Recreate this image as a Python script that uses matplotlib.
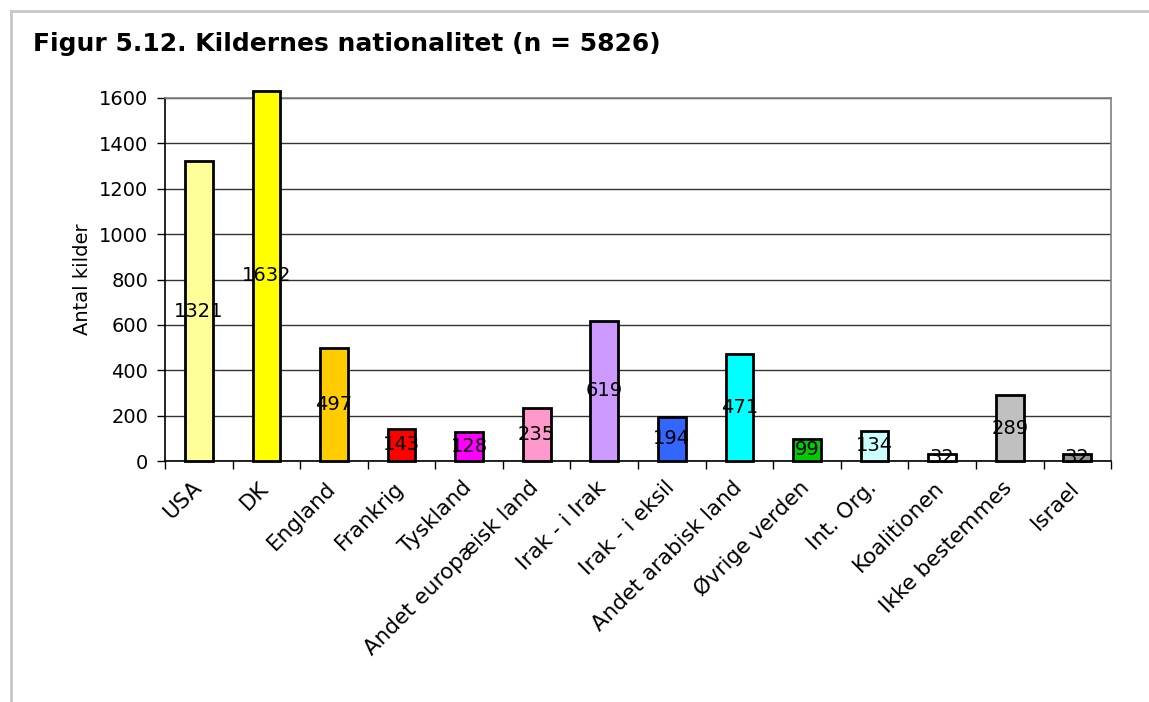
import numpy as np
import matplotlib.pyplot as plt
import matplotlib.transforms as mtransforms
from matplotlib.lines import Line2D

categories = ['USA', 'DK', 'England', 'Frankrig', 'Tyskland',
              'Andet europæisk land', 'Irak - i Irak', 'Irak - i eksil',
              'Andet arabisk land', 'Øvrige verden', 'Int. Org.',
              'Koalitionen', 'Ikke bestemmes', 'Israel']
values = [1321, 1632, 497, 143, 128, 235, 619, 194, 471, 99, 134, 32, 289, 32]
colors = ['#FFFF99', '#FFFF00', '#FFCC00', '#FF0000', '#FF00FF', '#FF99CC',
          '#CC99FF', '#3366FF', '#00FFFF', '#00CC00', '#CCFFFF', '#FFFFFF',
          '#C0C0C0', '#969696']
yticks = [0, 200, 400, 600, 800, 1000, 1200, 1400, 1600]

plt.rcParams['font.family'] = ['DejaVu Sans']

fig = plt.figure(figsize=(11.49, 7.02), dpi=100)
ax = fig.add_axes([0.1436, 0.3433, 0.967 - 0.1436, 0.8604 - 0.3433])

x = np.arange(len(categories))
bars = ax.bar(x, values, width=0.41, color=colors, edgecolor='black',
              linewidth=2, zorder=3, clip_on=False)

for xi, v in zip(x, values):
    ax.text(xi, v / 2, str(v), ha='center', va='center', fontsize=14,
            zorder=4, clip_on=False)

ax.set_xlim(-0.5, len(categories) - 0.5)
ax.set_ylim(0, 1600)
ax.set_yticks(yticks)
ax.tick_params(axis='y', labelsize=14, length=6, width=1, direction='out', pad=6)
ax.yaxis.grid(True, color='#333333', linewidth=1, zorder=0)

ax.set_xticks(x)
ax.set_xticklabels(categories, rotation=45, ha='right',
                   rotation_mode='anchor', fontsize=15.5)
ax.tick_params(axis='x', which='major', length=0, pad=12)
ax.set_xticks(np.arange(len(categories) + 1) - 0.5, minor=True)
ax.tick_params(axis='x', which='minor', length=6, width=1, direction='out')

# nudge the rotated labels a little to the left
shift = mtransforms.ScaledTranslation(-8 / 100, 0, fig.dpi_scale_trans)
for lbl in ax.get_xticklabels():
    lbl.set_transform(lbl.get_transform() + shift)

ax.set_ylabel('Antal kilder', fontsize=14, labelpad=5)

ax.spines['left'].set_color('black')
ax.spines['bottom'].set_color('black')
ax.spines['top'].set_color('#808080')
ax.spines['right'].set_color('#808080')
for s in ax.spines.values():
    s.set_linewidth(1.2)

fig.text(33 / 1149, 1 - 44 / 702, 'Figur 5.12. Kildernes nationalitet (n = 5826)',
         fontsize=18, fontweight='bold', ha='left', va='center')

# outer frame (top and left only visible)
fig.add_artist(Line2D([11 / 1149, 1], [1 - 11 / 702, 1 - 11 / 702],
                      color='#C8C8C8', linewidth=2, transform=fig.transFigure))
fig.add_artist(Line2D([11 / 1149, 11 / 1149], [0, 1 - 11 / 702],
                      color='#C8C8C8', linewidth=2, transform=fig.transFigure))

fig.savefig('out.png', dpi=100)
